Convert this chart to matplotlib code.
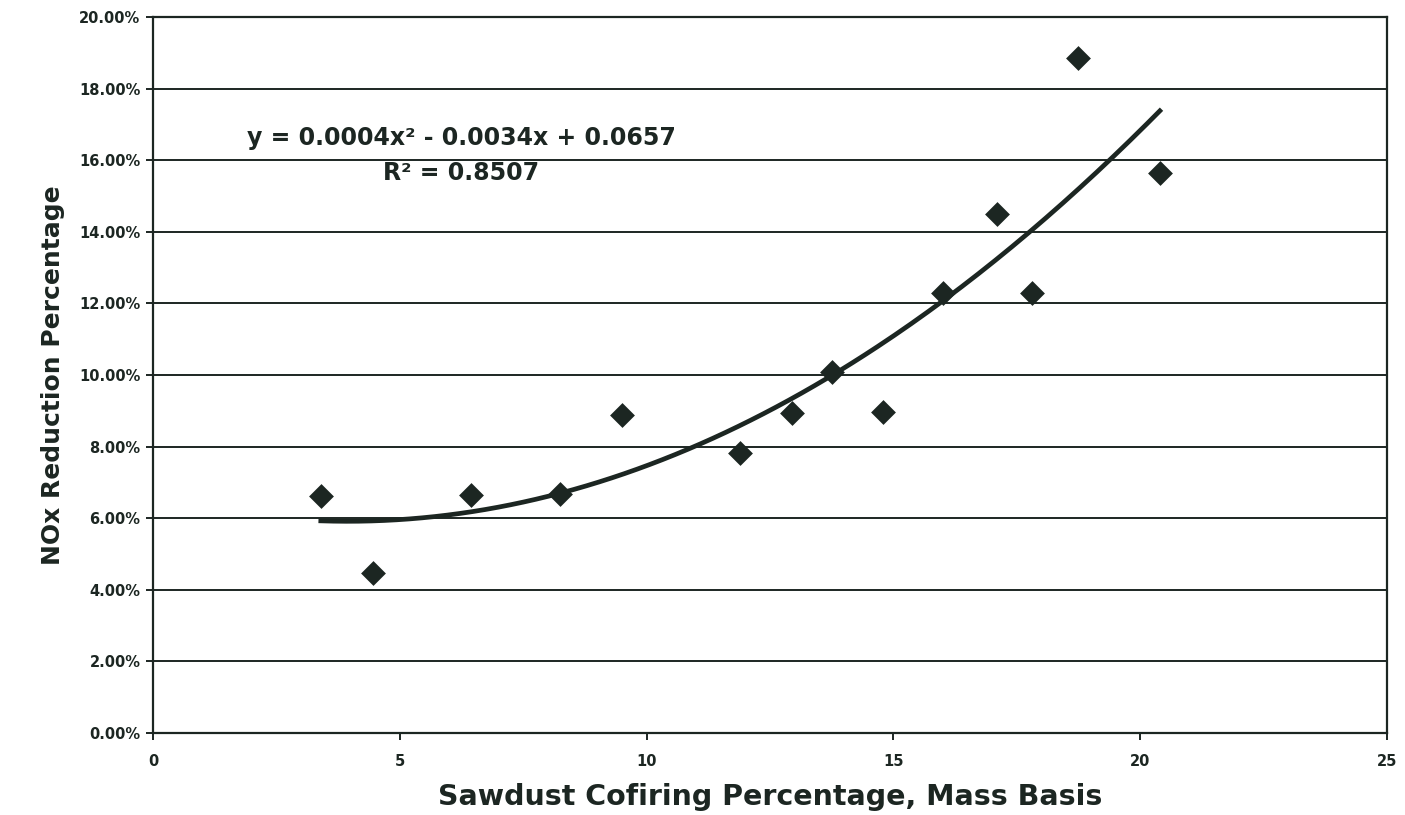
import numpy as np
import matplotlib
matplotlib.use("Agg")
import matplotlib.pyplot as plt
from matplotlib.ticker import FuncFormatter

# Data
cofiring_pct = [3.4, 4.45, 6.45, 8.25, 9.5, 11.9, 12.95, 13.75, 14.8, 16.0, 17.1, 17.8, 18.75, 20.4]
nox_reduction = [0.0663, 0.0447, 0.0665, 0.0668, 0.0888, 0.0782, 0.0894, 0.1008, 0.0897, 0.1230, 0.1450, 0.1230, 0.1885, 0.1564]
x_ticks = [0, 5, 10, 15, 20, 25]
y_ticks = [0.0, 0.02, 0.04, 0.06, 0.08, 0.10, 0.12, 0.14, 0.16, 0.18, 0.20]
equation_text = "y = 0.0004x² - 0.0034x + 0.0657"
r2_text = "R² = 0.8507"

ink = "#1c2622"
plt.rcParams['font.family'] = ['DejaVu Sans']

fig = plt.figure(figsize=(14.05, 8.15), dpi=100)
ax = fig.add_axes([0.1089, 0.1006, 0.8782, 0.8785])

# grid lines
for yv in y_ticks:
    ax.axhline(yv, color=ink, lw=1.4, zorder=1)

ax.scatter(cofiring_pct, nox_reduction, marker='D', s=160, color=ink, zorder=3, linewidths=0)

# quadratic trendline fitted to the data
coef = np.polyfit(cofiring_pct, nox_reduction, 2)
xs = np.linspace(min(cofiring_pct), max(cofiring_pct), 200)
ax.plot(xs, np.polyval(coef, xs), color=ink, lw=3.4, zorder=2)

ax.set_xlim(0, 25)
ax.set_ylim(0, 0.20)
ax.set_xticks(x_ticks)
ax.set_yticks(y_ticks)
ax.yaxis.set_major_formatter(FuncFormatter(lambda v, p: f"{v*100:.2f}%"))
ax.tick_params(axis='both', colors=ink, labelsize=10.5, width=1.4, length=5, direction='out')
for lab in ax.get_xticklabels() + ax.get_yticklabels():
    lab.set_fontweight('bold')
ax.tick_params(axis='x', pad=10)
ax.tick_params(axis='y', pad=4)

for s in ax.spines.values():
    s.set_color(ink)
    s.set_linewidth(1.6)

ax.set_ylabel("NOx Reduction Percentage", fontsize=18, fontweight='bold', color=ink, labelpad=10)
ax.set_xlabel("Sawdust Cofiring Percentage, Mass Basis", fontsize=20.5, fontweight='bold', color=ink, labelpad=10)

ax.text(6.25, 0.1663, equation_text, fontsize=17, fontweight='bold', color=ink, ha='center', va='center')
ax.text(6.25, 0.1565, r2_text, fontsize=17, fontweight='bold', color=ink, ha='center', va='center')

fig.savefig("out.png", dpi=100)
